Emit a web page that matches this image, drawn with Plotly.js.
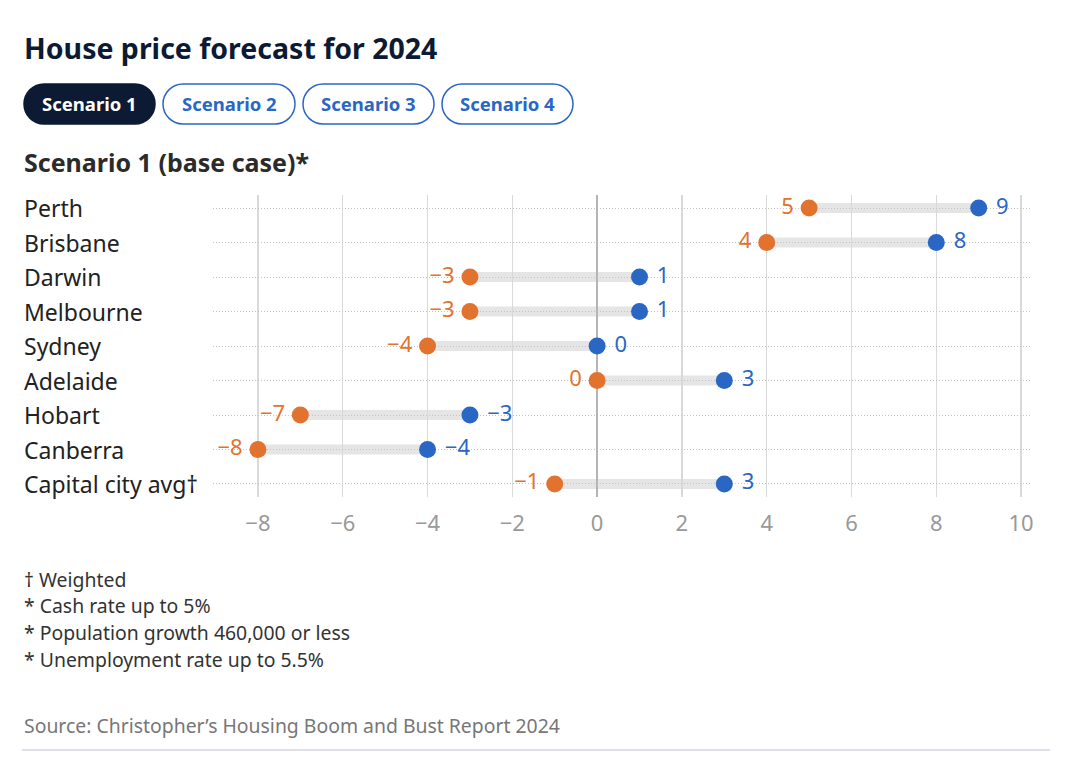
<!DOCTYPE html>
<html><head><meta charset="utf-8">
<script src="https://cdn.plot.ly/plotly-3.0.1.min.js"></script>
<style>html,body{margin:0;padding:0;background:#fff}#chart{width:1080px;height:774px}</style>
</head><body><div id="chart"></div>
<script>
const cities = ["Perth","Brisbane","Darwin","Melbourne","Sydney","Adelaide","Hobart","Canberra","Capital city avg†"];
const lowValues = [5,4,-3,-3,-4,0,-7,-8,-1];
const highValues = [9,8,1,1,0,3,-3,-4,3];
const scenarioLabels = ["Scenario 1","Scenario 2","Scenario 3","Scenario 4"];
const footnotes = ["† Weighted","* Cash rate up to 5%","* Population growth 460,000 or less","* Unemployment rate up to 5.5%"];
const xTicks = [-8,-6,-4,-2,0,2,4,6,8,10];

const W=1080,H=774, L=213, R=1030, T=195, B=497;
const pw=R-L, ph=B-T;
const px = x => (x-L)/pw;
const py = y => (B-y)/ph;
const fmt = v => (v<0? "\u2212"+Math.abs(v) : String(v));

const ORANGE="#e2732e", BLUE="#2a67c5", NAVY="#0c1a33";
const FONT="'Noto Sans', sans-serif";

const traces = [
  {type:"scatter", mode:"markers+text", x:lowValues, y:cities, text:lowValues.map(v=>fmt(v)+"\u2009"),
   textposition:"middle left", textfont:{color:ORANGE,size:22,family:FONT},
   marker:{color:ORANGE,size:17}, hoverinfo:"skip", cliponaxis:false},
  {type:"scatter", mode:"markers+text", x:highValues, y:cities, text:highValues.map(v=>" "+fmt(v)),
   textposition:"middle right", textfont:{color:BLUE,size:22,family:FONT},
   marker:{color:BLUE,size:17}, hoverinfo:"skip", cliponaxis:false}
];

const shapes = cities.map((c,i)=>({type:"line", xref:"x", yref:"y", x0:lowValues[i], x1:highValues[i], y0:c, y1:c,
  line:{color:"#e5e5e5", width:10}, layer:"below"}));

function pill(x0,y0,x1,y1,fill,stroke){
  const r=(y1-y0)/2, k=0.5523*r;
  const P=(x,y)=>px(x).toFixed(5)+","+py(y).toFixed(5);
  const d="M"+P(x0+r,y0)+" L"+P(x1-r,y0)+
    " C"+P(x1-r+k,y0)+" "+P(x1,y0+r-k)+" "+P(x1,y0+r)+
    " C"+P(x1,y0+r+k)+" "+P(x1-r+k,y1)+" "+P(x1-r,y1)+
    " L"+P(x0+r,y1)+
    " C"+P(x0+r-k,y1)+" "+P(x0,y0+r+k)+" "+P(x0,y0+r)+
    " C"+P(x0,y0+r-k)+" "+P(x0+r-k,y0)+" "+P(x0+r,y0)+" Z";
  return {type:"path", xref:"paper", yref:"paper", path:d, fillcolor:fill, line:{color:stroke,width:1.5}, layer:"above"};
}
const btnX=[[24,155],[163,295],[303,434],[442,573]];
const annotations=[];
scenarioLabels.forEach((s,i)=>{
  const [a,b]=btnX[i];
  shapes.push(pill(a,84,b,124, i===0?NAVY:"#ffffff", i===0?NAVY:BLUE));
  annotations.push({xref:"paper",yref:"paper",x:px((a+b)/2),y:py(104),text:"<b>"+s+"</b>",showarrow:false,
    xanchor:"center",yanchor:"middle",font:{family:FONT,size:18.5,color:i===0?"#ffffff":BLUE}});
});
shapes.push({type:"line",xref:"paper",yref:"paper",x0:px(22),x1:px(1050),y0:py(750),y1:py(750),line:{color:"#d6d6e0",width:1.5}});

annotations.push({xref:"paper",yref:"paper",x:px(22),y:py(48),text:"<b>House price forecast for 2024</b>",showarrow:false,
  xanchor:"left",yanchor:"middle",font:{family:FONT,size:28.5,color:NAVY}});
annotations.push({xref:"paper",yref:"paper",x:px(22),y:py(162),text:"<b>Scenario 1 (base case)*</b>",showarrow:false,
  xanchor:"left",yanchor:"middle",font:{family:FONT,size:25,color:"#2b2b2b"}});
cities.forEach(c=>annotations.push({xref:"paper",yref:"y",x:px(22),y:c,text:c,showarrow:false,xanchor:"left",yanchor:"middle",
  font:{family:FONT,size:23,color:"#222"}}));
footnotes.forEach((f,i)=>annotations.push({xref:"paper",yref:"paper",x:px(22),y:py(579+i*26.7),text:f,showarrow:false,
  xanchor:"left",yanchor:"middle",font:{family:FONT,size:19.4,color:"#333"}}));
annotations.push({xref:"paper",yref:"paper",x:px(22),y:py(725),text:"Source: Christopher’s Housing Boom and Bust Report 2024",showarrow:false,
  xanchor:"left",yanchor:"middle",font:{family:FONT,size:19.4,color:"#777"}});

const layout = {
  width:W,height:H, margin:{l:L,r:W-R,t:T,b:H-B},
  paper_bgcolor:"#fff", plot_bgcolor:"#fff", showlegend:false,
  xaxis:{range:[-9.06,10.21], tickvals:xTicks, showgrid:true, gridcolor:"#d9d9d9", gridwidth:1.2,
    zeroline:true, zerolinecolor:"#b5b5b5", zerolinewidth:2, showline:false,
    ticks:"outside", ticklen:7, tickcolor:"rgba(0,0,0,0)",
    tickfont:{family:FONT,size:22,color:"#999"}, fixedrange:true},
  yaxis:{type:"category", categoryarray:cities, range:[8.377,-0.377], showticklabels:false,
    showgrid:true, gridcolor:"#c4c4c4", gridwidth:1, griddash:"1px,2px", zeroline:false, fixedrange:true},
  shapes, annotations
};
Plotly.newPlot("chart", traces, layout, {displayModeBar:false, staticPlot:true});
</script></body></html>
